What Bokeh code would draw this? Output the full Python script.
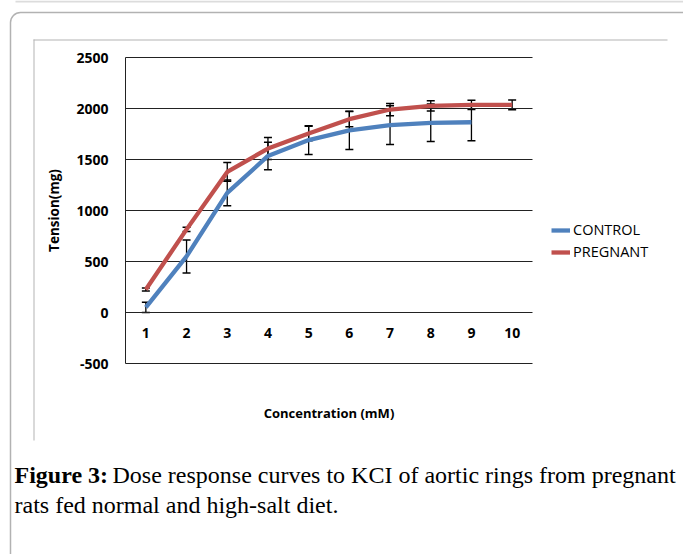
from bokeh.plotting import figure
from bokeh.models import (ColumnDataSource, Whisker, TeeHead, Legend, LegendItem,
                          FixedTicker, Label, BoxAnnotation, Range1d)
from bokeh.embed import file_html
from bokeh.resources import INLINE

# ---- data ----
concentration = [1, 2, 3, 4, 5, 6, 7, 8, 9, 10]
control = [50, 550, 1172, 1535, 1690, 1785, 1836, 1860, 1865]
control_err = [50, 162, 126, 135, 140, 188, 190, 183, 180]
pregnant = [225, 815, 1378, 1607, 1755, 1895, 1990, 2025, 2035, 2035]
pregnant_err = [15, 20, 92, 108, 72, 75, 60, 50, 45, 48]
y_ticks = [-500, 0, 500, 1000, 1500, 2000, 2500]
y_tick_labels = ["-500", "0", "500", "1000", "1500", "2000", "2500"]
x_ticks = concentration
series_names = ["CONTROL", "PREGNANT"]
colors = ["#4F81BD", "#C0504D"]
caption_bold = "Figure 3:"
caption_line1 = "Dose response curves to KCI of aortic rings from pregnant"
caption_line2 = "rats fed normal and high-salt diet."

FONT = "Open Sans"
SERIF = "Liberation Serif"

# ---- layout: the frame fills the whole canvas; the chart area is mapped into it ----
W, H = 683, 554
PL, PR, PT, PB = 125, 532, 57, 363          # chart area in canvas pixels
X0, X1 = 0.5, 10.5
Y0, Y1 = -500, 2500
sx = (X1 - X0) / (PR - PL)
sy = (Y1 - Y0) / (PB - PT)
x_range = Range1d(X0 - PL * sx, X1 + (W - PR) * sx)
y_range = Range1d(Y0 - (H - PB) * sy, Y1 + PT * sy)

p = figure(width=W, height=H, output_backend="svg", toolbar_location=None,
           x_range=x_range, y_range=y_range, min_border=0)
p.outline_line_color = None
p.background_fill_color = "white"
p.border_fill_color = "white"
p.grid.visible = False

# horizontal gridlines limited to the chart area
p.segment(x0=[X0] * len(y_ticks), x1=[X1] * len(y_ticks), y0=y_ticks, y1=y_ticks,
          line_color="#222222", line_width=1)

# y axis fixed at the chart's left edge
ya = p.yaxis[0]
ya.fixed_location = X0
ya.bounds = (Y0, Y1)
ya.ticker = FixedTicker(ticks=y_ticks)
ya.major_label_overrides = dict(zip(y_ticks, y_tick_labels))
ya.axis_line_color = "#222222"
ya.major_tick_line_color = None
ya.minor_tick_line_color = None
ya.major_label_standoff = 11
ya.major_label_text_font = FONT
ya.major_label_text_font_style = "bold"
ya.major_label_text_font_size = "14px"
ya.major_label_text_color = "black"
ya.axis_label = "Tension(mg)"
ya.axis_label_text_font = FONT
ya.axis_label_text_font_style = "bold"
ya.axis_label_text_font_size = "13.5px"
ya.axis_label_text_color = "black"
ya.axis_label_standoff = 10

# x axis: labels just below the zero line, title further down
xa = p.xaxis[0]
xa.fixed_location = 0
xa.bounds = (X0, X1)
xa.ticker = FixedTicker(ticks=x_ticks)
xa.axis_line_color = None
xa.major_tick_line_color = None
xa.minor_tick_line_color = None
xa.major_label_standoff = 9
xa.major_label_text_font = FONT
xa.major_label_text_font_style = "bold"
xa.major_label_text_font_size = "14px"
xa.major_label_text_color = "black"
xa.axis_label = "Concentration (mM)"
xa.axis_label_text_font = FONT
xa.axis_label_text_font_style = "bold"
xa.axis_label_text_font_size = "13px"
xa.axis_label_text_color = "black"
xa.axis_label_standoff = 63

# series
src_c = ColumnDataSource(dict(x=concentration[:len(control)], y=control,
                              lo=[v - e for v, e in zip(control, control_err)],
                              hi=[v + e for v, e in zip(control, control_err)]))
src_p = ColumnDataSource(dict(x=concentration, y=pregnant,
                              lo=[v - e for v, e in zip(pregnant, pregnant_err)],
                              hi=[v + e for v, e in zip(pregnant, pregnant_err)]))
r_c = p.line("x", "y", source=src_c, line_color=colors[0], line_width=4.3)
r_p = p.line("x", "y", source=src_p, line_color=colors[1], line_width=4.3)

for src in (src_c, src_p):
    w = Whisker(base="x", upper="hi", lower="lo", source=src, dimension="height",
                line_color="black", line_width=1.3,
                upper_head=TeeHead(size=8, line_color="black", line_width=1.5),
                lower_head=TeeHead(size=8, line_color="black", line_width=1.5))
    p.add_layout(w)

legend = Legend(items=[LegendItem(label=series_names[0], renderers=[r_c]),
                       LegendItem(label=series_names[1], renderers=[r_p])],
                location=(551, H - 261), padding=0, margin=0, spacing=3,
                glyph_width=19, glyph_height=18, label_height=18, label_standoff=3,
                border_line_color=None, background_fill_alpha=0,
                label_text_font=FONT, label_text_font_size="14.5px",
                label_text_color="black")
p.add_layout(legend)

# page decorations, in canvas pixels measured from the bottom-left corner
def scr(**kw):
    for k in ("left", "right", "top", "bottom"):
        kw[k + "_units"] = "screen"
    return BoxAnnotation(**kw)

p.add_layout(scr(left=15, right=W, top=H, bottom=H - 2,
                 fill_color="#dcdcdc", fill_alpha=1, line_color=None))
p.add_layout(scr(left=10, right=760, top=H - 12, bottom=-60, fill_color=None,
                 line_color="black", line_width=1.5, border_radius=10))
p.add_layout(scr(left=33, right=667, top=H - 39, bottom=H - 40,
                 fill_color="#b4b4b4", fill_alpha=1, line_color=None))
p.add_layout(scr(left=33, right=34, top=H - 39, bottom=H - 440,
                 fill_color="#b4b4b4", fill_alpha=1, line_color=None))

p.add_layout(Label(x=14, y=H - 474, x_units="screen", y_units="screen",
                   text=caption_bold, text_font=SERIF, text_font_style="bold",
                   text_font_size="24px", text_baseline="alphabetic", text_color="black"))
p.add_layout(Label(x=112, y=H - 474, x_units="screen", y_units="screen",
                   text=caption_line1, text_font=SERIF,
                   text_font_size="24px", text_baseline="alphabetic", text_color="black"))
p.add_layout(Label(x=14, y=H - 504, x_units="screen", y_units="screen",
                   text=caption_line2, text_font=SERIF,
                   text_font_size="24px", text_baseline="alphabetic", text_color="black"))

open("out.html", "w").write(file_html(p, INLINE))
